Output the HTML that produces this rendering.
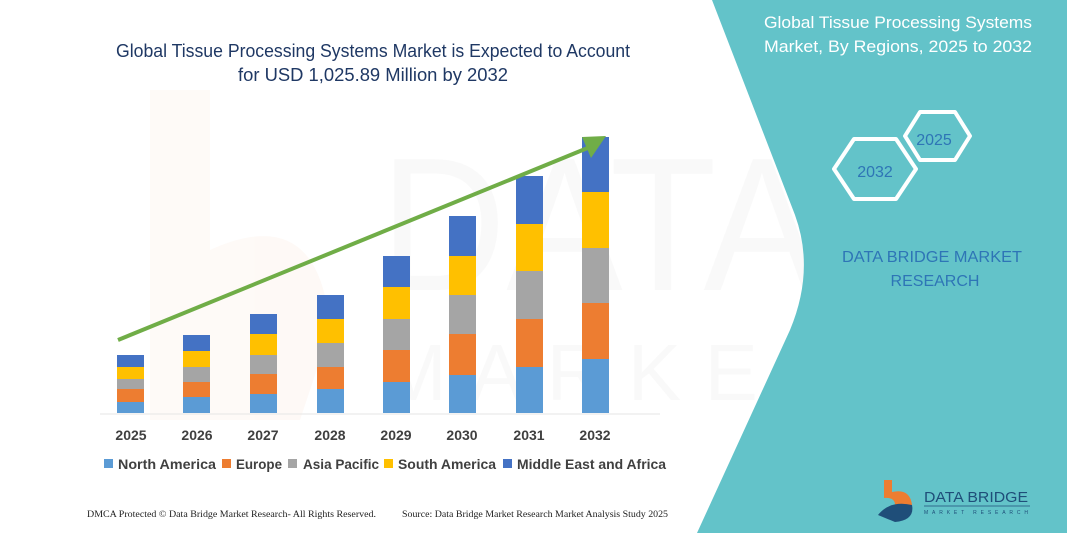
<!DOCTYPE html>
<html><head><meta charset="utf-8"><style>
html,body{margin:0;padding:0;background:#fff;}
svg{display:block;font-family:"Liberation Sans",sans-serif;}
</style></head><body>
<svg width="1067" height="533" viewBox="0 0 1067 533" xmlns="http://www.w3.org/2000/svg">
<rect width="1067" height="533" fill="#fff"/>
<!-- faint watermark -->
<g opacity="0.04">
<path d="M150 90 L210 90 L210 250 Q320 200 330 330 L300 420 L150 420 Z" fill="#ED7D31"/>
<text x="380" y="290" font-size="190" fill="#777" textLength="440" lengthAdjust="spacingAndGlyphs">DATA</text>
<text x="380" y="400" font-size="80" fill="#777" textLength="450" lengthAdjust="spacing">MARKET</text>
</g>
<!-- teal panel -->
<path d="M712 0 L1067 0 L1067 533 L697 533 L790 330 Q815 270 795 215 Z" fill="#63C3C9"/>
<!-- title -->
<text x="373" y="57" font-size="18" fill="#1F3864" text-anchor="middle" textLength="514" lengthAdjust="spacingAndGlyphs">Global Tissue Processing Systems Market is Expected to Account</text>
<text x="373" y="81" font-size="18" fill="#1F3864" text-anchor="middle" textLength="270" lengthAdjust="spacingAndGlyphs">for USD 1,025.89 Million by 2032</text>
<!-- bars -->
<g>
<rect x="117" y="402" width="27" height="11" fill="#5B9BD5"/><rect x="117" y="389" width="27" height="13" fill="#ED7D31"/><rect x="117" y="379" width="27" height="10" fill="#A5A5A5"/><rect x="117" y="367" width="27" height="12" fill="#FFC000"/><rect x="117" y="355" width="27" height="12" fill="#4472C4"/>
<rect x="183" y="397" width="27" height="16" fill="#5B9BD5"/><rect x="183" y="382" width="27" height="15" fill="#ED7D31"/><rect x="183" y="367" width="27" height="15" fill="#A5A5A5"/><rect x="183" y="351" width="27" height="16" fill="#FFC000"/><rect x="183" y="335" width="27" height="16" fill="#4472C4"/>
<rect x="250" y="394" width="27" height="19" fill="#5B9BD5"/><rect x="250" y="374" width="27" height="20" fill="#ED7D31"/><rect x="250" y="355" width="27" height="19" fill="#A5A5A5"/><rect x="250" y="334" width="27" height="21" fill="#FFC000"/><rect x="250" y="314" width="27" height="20" fill="#4472C4"/>
<rect x="317" y="389" width="27" height="24" fill="#5B9BD5"/><rect x="317" y="367" width="27" height="22" fill="#ED7D31"/><rect x="317" y="343" width="27" height="24" fill="#A5A5A5"/><rect x="317" y="319" width="27" height="24" fill="#FFC000"/><rect x="317" y="295" width="27" height="24" fill="#4472C4"/>
<rect x="383" y="382" width="27" height="31" fill="#5B9BD5"/><rect x="383" y="350" width="27" height="32" fill="#ED7D31"/><rect x="383" y="319" width="27" height="31" fill="#A5A5A5"/><rect x="383" y="287" width="27" height="32" fill="#FFC000"/><rect x="383" y="256" width="27" height="31" fill="#4472C4"/>
<rect x="449" y="375" width="27" height="38" fill="#5B9BD5"/><rect x="449" y="334" width="27" height="41" fill="#ED7D31"/><rect x="449" y="295" width="27" height="39" fill="#A5A5A5"/><rect x="449" y="256" width="27" height="39" fill="#FFC000"/><rect x="449" y="216" width="27" height="40" fill="#4472C4"/>
<rect x="516" y="367" width="27" height="46" fill="#5B9BD5"/><rect x="516" y="319" width="27" height="48" fill="#ED7D31"/><rect x="516" y="271" width="27" height="48" fill="#A5A5A5"/><rect x="516" y="224" width="27" height="47" fill="#FFC000"/><rect x="516" y="176" width="27" height="48" fill="#4472C4"/>
<rect x="582" y="359" width="27" height="54" fill="#5B9BD5"/><rect x="582" y="303" width="27" height="56" fill="#ED7D31"/><rect x="582" y="248" width="27" height="55" fill="#A5A5A5"/><rect x="582" y="192" width="27" height="56" fill="#FFC000"/><rect x="582" y="137" width="27" height="55" fill="#4472C4"/>
</g>
<line x1="100" y1="414" x2="660" y2="414" stroke="#e6e6e6" stroke-width="1"/>
<!-- arrow -->
<line x1="118" y1="340" x2="590" y2="147" stroke="#70AD47" stroke-width="4"/>
<polygon points="606,136 582,137 591,158" fill="#70AD47"/>
<!-- x labels -->
<g font-size="14" font-weight="bold" fill="#404040" text-anchor="middle">
<text x="131" y="440">2025</text><text x="197" y="440">2026</text><text x="263" y="440">2027</text><text x="330" y="440">2028</text><text x="396" y="440">2029</text><text x="462" y="440">2030</text><text x="529" y="440">2031</text><text x="595" y="440">2032</text>
</g>
<!-- legend -->
<g font-size="14" font-weight="bold" fill="#404040">
<rect x="104" y="459" width="9" height="9" fill="#5B9BD5"/><text x="118" y="469" textLength="98" lengthAdjust="spacingAndGlyphs">North America</text>
<rect x="222" y="459" width="9" height="9" fill="#ED7D31"/><text x="236" y="469" textLength="46" lengthAdjust="spacingAndGlyphs">Europe</text>
<rect x="288" y="459" width="9" height="9" fill="#A5A5A5"/><text x="303" y="469" textLength="76" lengthAdjust="spacingAndGlyphs">Asia Pacific</text>
<rect x="384" y="459" width="9" height="9" fill="#FFC000"/><text x="398" y="469" textLength="98" lengthAdjust="spacingAndGlyphs">South America</text>
<rect x="503" y="459" width="9" height="9" fill="#4472C4"/><text x="517" y="469" textLength="149" lengthAdjust="spacingAndGlyphs">Middle East and Africa</text>
</g>
<!-- footer -->
<g font-family="Liberation Serif,serif" font-size="9" fill="#222">
<text x="87" y="517" textLength="289" lengthAdjust="spacingAndGlyphs">DMCA Protected © Data Bridge Market Research-  All Rights Reserved.</text>
<text x="402" y="517" textLength="266" lengthAdjust="spacingAndGlyphs">Source: Data Bridge Market Research  Market Analysis Study 2025</text>
</g>
<!-- right panel text -->
<text x="898" y="28" font-size="17" fill="#fff" text-anchor="middle" textLength="268" lengthAdjust="spacingAndGlyphs">Global Tissue Processing Systems</text>
<text x="898" y="52" font-size="17" fill="#fff" text-anchor="middle" textLength="268" lengthAdjust="spacingAndGlyphs">Market, By Regions, 2025 to 2032</text>
<polygon points="834,169 854,139 896,139 916,169 896,199 854,199" fill="none" stroke="#fff" stroke-width="4" stroke-linejoin="round"/>
<polygon points="905,136 920,112 955,112 970,136 955,160 920,160" fill="none" stroke="#fff" stroke-width="4" stroke-linejoin="round"/>
<text x="875" y="177" font-size="16" fill="#2E75B6" text-anchor="middle">2032</text>
<text x="934" y="145" font-size="16" fill="#2E75B6" text-anchor="middle">2025</text>
<text x="932" y="262" font-size="16" fill="#2E75B6" text-anchor="middle" textLength="180" lengthAdjust="spacingAndGlyphs">DATA BRIDGE MARKET</text>
<text x="935" y="286" font-size="16" fill="#2E75B6" text-anchor="middle">RESEARCH</text>
<!-- logo -->
<path d="M884 480 L892 480 L892 492 Q910 488 912 505 L895 505 Q895 497 884 498 Z" fill="#ED7D31"/>
<path d="M878 515 Q890 500 912 505 Q915 520 895 522 Z" fill="#1F4E79"/>
<text x="924" y="502" font-size="15" fill="#1F4E79" textLength="104" lengthAdjust="spacingAndGlyphs">DATA BRIDGE</text>
<line x1="924" y1="506" x2="1030" y2="506" stroke="#1F4E79" stroke-width="0.8"/>
<text x="924" y="514" font-size="5" fill="#1F4E79" textLength="104" lengthAdjust="spacing">MARKET RESEARCH</text>
</svg>
</body></html>
